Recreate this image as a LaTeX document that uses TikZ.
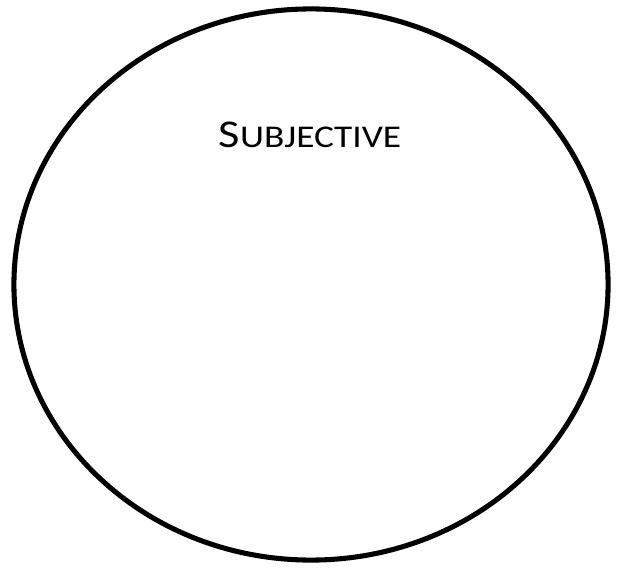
\documentclass[tikz,border=0pt]{standalone}
\usepackage{fontspec}
\setmainfont{Carlito}
\usepackage{tikz}
\usetikzlibrary{shapes.geometric}

\begin{document}
\begin{tikzpicture}[
  x=0.025cm,y=-0.025cm,
  oval/.style={draw,ellipse,line width=3.6pt,inner sep=0pt,
    minimum width=14.85cm,minimum height=13.775cm},
  title/.style={anchor=base,inner sep=0pt}
]
\useasboundingbox (0,0) rectangle (622,570);
% outer ellipse
\node[oval] (circ) at (311,284.5) {};
% heading in small capitals
\node[title] (subj) at (310,148)
  {\scalebox{1.18}[1]{\fontsize{28}{30}\selectfont S\fontsize{22.5}{26}\selectfont UBJECTIVE}};
\end{tikzpicture}
\end{document}
